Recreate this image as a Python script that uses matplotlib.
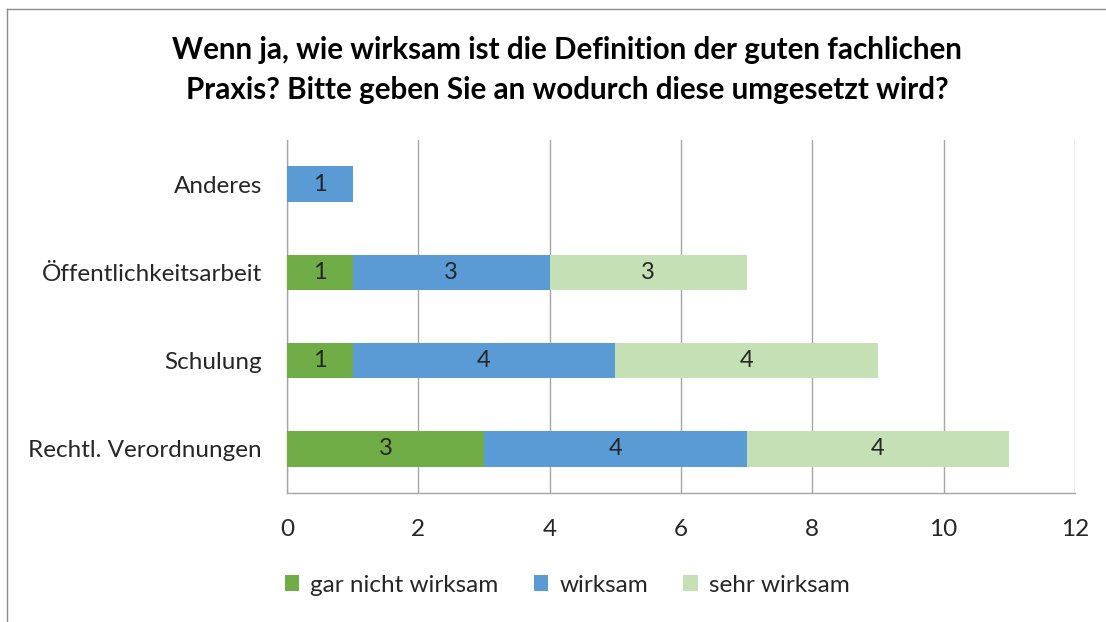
import matplotlib
matplotlib.use("Agg")
import matplotlib.pyplot as plt
from matplotlib.lines import Line2D
from matplotlib.patches import Patch
import numpy as np

plt.rcParams['font.family'] = ['Lato', 'DejaVu Sans']

title = "Wenn ja, wie wirksam ist die Definition der guten fachlichen\nPraxis? Bitte geben Sie an wodurch diese umgesetzt wird?"
categories = ["Rechtl. Verordnungen", "Schulung", "Öffentlichkeitsarbeit", "Anderes"]
series_names = ["gar nicht wirksam", "wirksam", "sehr wirksam"]
gar_nicht = [3, 1, 1, 0]
wirksam = [4, 4, 3, 1]
sehr_wirksam = [4, 4, 3, 0]
colors = ["#70AD47", "#5B9BD5", "#C5E0B4"]
xticks = [0, 2, 4, 6, 8, 10, 12]

fig = plt.figure(figsize=(11.06, 6.22), dpi=100)
ax = fig.add_axes([287/1106, 1-493/622, (1075-287)/1106, (493-140)/622])

y = np.arange(len(categories))
left = np.zeros(len(categories))
text_col = "#262626"
for vals, name, col in zip([gar_nicht, wirksam, sehr_wirksam], series_names, colors):
    vals = np.array(vals, dtype=float)
    ax.barh(y, vals, left=left, height=0.4, color=col, label=name, zorder=3)
    for yi, (l, v) in enumerate(zip(left, vals)):
        if v > 0:
            ax.text(l + v/2, yi, f"{int(v)}", ha="center", va="center",
                    fontsize=17, color=text_col, zorder=4)
    left += vals

ax.set_xlim(0, 12)
ax.set_ylim(-0.5, 3.5)
ax.set_xticks(xticks)
ax.set_xticklabels([str(t) for t in xticks])
ax.set_yticks(y)
ax.set_yticklabels(categories)
ax.tick_params(axis="both", length=0, labelsize=17.5, labelcolor=text_col)
ax.tick_params(axis="x", pad=19)
ax.tick_params(axis="y", pad=18)
ax.grid(axis="x", color="#A6A6A6", linewidth=1, zorder=0)
for s in ["top", "right"]:
    ax.spines[s].set_visible(False)
for s in ["left", "bottom"]:
    ax.spines[s].set_color("#A6A6A6")
    ax.spines[s].set_linewidth(1)

fig.text(567/1106, 1-70/622, title, ha="center", va="center", fontsize=21.3,
         fontweight="bold", color="#000000", linespacing=1.5)

handles = [Patch(facecolor=c, edgecolor="none") for c in colors]
fig.legend(handles, series_names, loc="center", bbox_to_anchor=(567/1106, 1-585/622),
           ncol=3, frameon=False, fontsize=17.5, handlelength=0.6, handleheight=0.6,
           handletextpad=0.45, columnspacing=1.45, labelcolor=text_col)

# figure border (left and top visible)
fig.add_artist(Line2D([7/1106, 7/1106], [0, 1-9/622], transform=fig.transFigure,
                      color="#8C8C8C", linewidth=1))
fig.add_artist(Line2D([7/1106, 1], [1-9/622, 1-9/622], transform=fig.transFigure,
                      color="#8C8C8C", linewidth=1))

fig.savefig("out.png", dpi=100)
